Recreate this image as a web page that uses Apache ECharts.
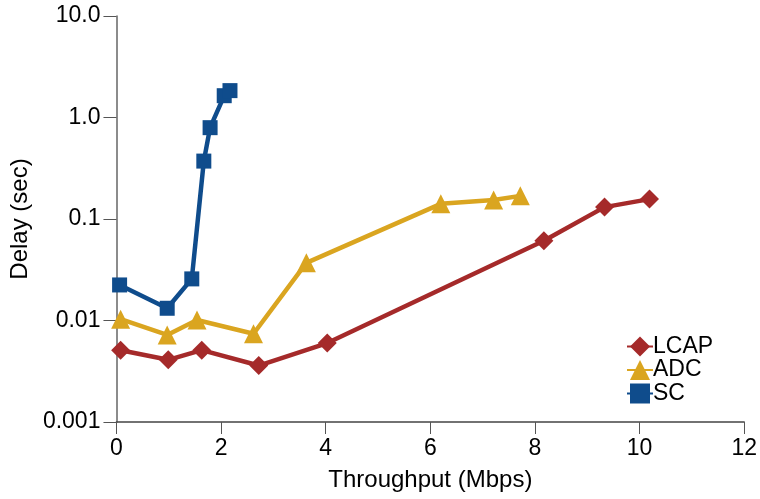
<!DOCTYPE html>
<html><head><meta charset="utf-8">
<script src="https://cdn.jsdelivr.net/npm/echarts@6/dist/echarts.min.js"></script>
<style>html,body{margin:0;padding:0;background:#fff}#c{width:760px;height:499px}</style>
</head><body><div id="c"></div>
<script>
const seriesNames = ['LCAP', 'ADC', 'SC'];
const lcapX = [0.08, 0.99, 1.63, 2.72, 4.03, 8.17, 9.33, 10.19];
const lcapY = [0.0051, 0.0041, 0.0051, 0.0036, 0.0060, 0.061, 0.131, 0.157];
const adcX = [0.08, 0.97, 1.54, 2.62, 3.63, 6.20, 7.21, 7.72];
const adcY = [0.0103, 0.0072, 0.0101, 0.0074, 0.037, 0.141, 0.154, 0.169];
const scX = [0.06, 0.97, 1.44, 1.67, 1.79, 2.06, 2.17];
const scY = [0.0224, 0.0132, 0.0257, 0.372, 0.794, 1.64, 1.84];
const yTickLabels = {10: '10.0', 1: '1.0', 0.1: '0.1', 0.01: '0.01', 0.001: '0.001'};

const pair = (xs, ys) => xs.map((x, i) => [x, ys[i]]);
const colors = ['#a52a2a', '#daa520', '#0f4c8c'];
const symbols = ['diamond', 'triangle', 'rect'];
const sizes = [19, 19, 15];
const datas = [pair(lcapX, lcapY), pair(adcX, adcY), pair(scX, scY)];
const font = 'Liberation Sans, Arial, sans-serif';

const chart = echarts.init(document.getElementById('c'));
chart.setOption({
  animation: false,
  grid: {left: 115, right: 14, top: 16, bottom: 77, containLabel: false},
  legend: {
    data: seriesNames,
    orient: 'vertical',
    left: 621, top: 329,
    itemWidth: 26, itemHeight: 25, itemGap: -1.5,
    textStyle: {fontFamily: font, fontSize: 23, lineHeight: 25, color: '#000', padding: [0, 0, 0, -5]}
  },
  xAxis: {
    type: 'value', min: 0, max: 12, interval: 2,
    name: 'Throughput (Mbps)', nameLocation: 'middle', nameGap: 46,
    nameTextStyle: {fontFamily: font, fontSize: 24, color: '#000'},
    axisLine: {lineStyle: {color: '#444', width: 1.5}},
    axisTick: {show: true, length: 12, lineStyle: {color: '#555'}},
    axisLabel: {fontFamily: font, fontSize: 23, color: '#000', margin: 15},
    splitLine: {show: false}
  },
  yAxis: {
    type: 'log', logBase: 10, min: 0.001, max: 10,
    name: 'Delay (sec)', nameLocation: 'middle', nameGap: 81, nameRotate: 90,
    nameTextStyle: {fontFamily: font, fontSize: 24, color: '#000'},
    axisLine: {show: true, lineStyle: {color: '#666', width: 1.5}},
    axisTick: {show: true, length: 13, lineStyle: {color: '#555'}},
    axisLabel: {fontFamily: font, fontSize: 23, color: '#000', margin: 16,
      formatter: v => { for (const k in yTickLabels) { if (Math.abs(Math.log10(v) - Math.log10(+k)) < 1e-6) return yTickLabels[k]; } return ''; }},
    splitLine: {show: false}
  },
  series: seriesNames.map((n, i) => ({
    name: n, type: 'line', data: datas[i],
    symbol: symbols[i], symbolSize: sizes[i],
    lineStyle: {color: colors[i], width: 4.5},
    itemStyle: {color: colors[i]},
    z: 3 - i
  }))
});
</script></body></html>
